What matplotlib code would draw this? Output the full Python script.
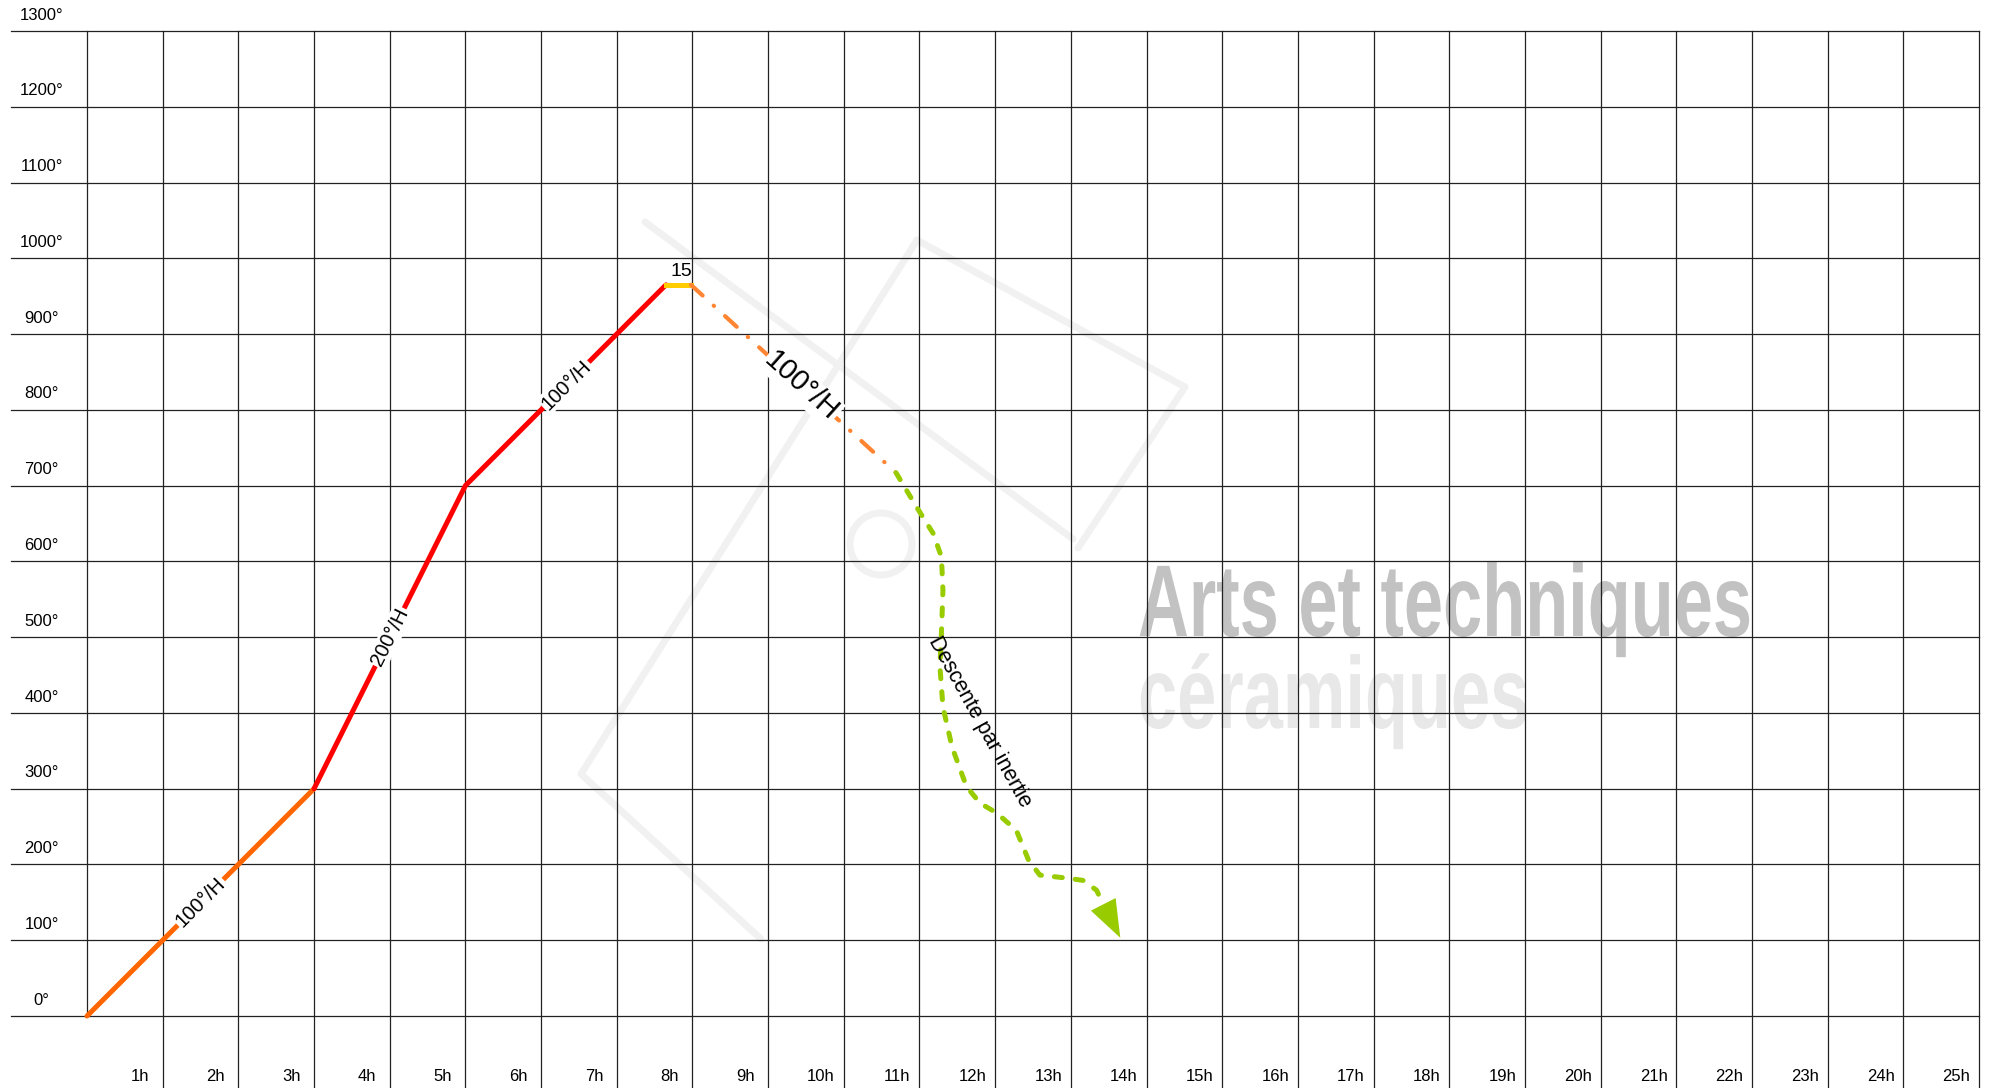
import matplotlib.pyplot as plt
from matplotlib.textpath import TextPath
from matplotlib.patches import PathPatch, Circle
from matplotlib.font_manager import FontProperties
from matplotlib.transforms import Affine2D

plt.rcParams['font.family'] = ['Liberation Sans', 'DejaVu Sans']

# grid / labels
hours = list(range(0, 26))
temps = list(range(0, 1301, 100))
x_labels = [f'{h}h' for h in range(1, 26)]
y_labels = [f'{t}°' for t in temps]

# firing curve (hours, degrees)
ramp1_h = [0, 3]
ramp1_t = [0, 300]
ramp2_h = [3, 5, 7.65]
ramp2_t = [300, 700, 965]
hold_h = [7.65, 7.98]
hold_t = [965, 965]
cool_h = [7.98, 10.69]
cool_t = [965, 717]
inertia_h = [10.69, 10.96, 11.18, 11.29, 11.31, 11.29, 11.27, 11.31, 11.43,
             11.62, 11.80, 12.02, 12.28, 12.44, 12.59, 12.95, 13.16, 13.34, 13.42]
inertia_t = [717, 672, 637, 606, 562, 505, 461, 408, 355,
             303, 281, 268, 245, 206, 186, 182, 179, 166, 149]
arrow_tip = (13.67, 100)

W, H = 1989, 1088
fig = plt.figure(figsize=(W / 100, H / 100), dpi=100)
ax = fig.add_axes([0, 0, 1, 1])
ax.set_xlim(-1.1496, 25.132)
ax.set_ylim(-95.0, 1340.9)
ax.axis('off')


def px(x, y):
    # image pixel (from top-left) -> data coords, for the watermark only
    return (x - 87) / 75.68, (1016 - y) / 0.7577


# faint watermark logo
wm_col = '#f1f1f1'
for seg in [[(645, 222), (1073, 539)],
            [(917, 240), (1185, 387), (1078, 548)],
            [(917, 240), (581, 774), (761, 939)]]:
    xs, ys = zip(*[px(*p) for p in seg])
    ax.plot(xs, ys, color=wm_col, lw=5, zorder=0, solid_capstyle='round')
ax.add_artist(Circle((0, 0), 1, transform=Affine2D().scale(31).translate(881, H - 544),
                     fill=False, edgecolor=wm_col, lw=5, zorder=0))

# watermark text, squeezed horizontally
fp = FontProperties(family='Liberation Sans', weight='bold')
for txt, base, col in [('Arts et techniques', 636, '#c2c2c2'),
                       ('céramiques', 728, '#e8e8e8')]:
    tp = TextPath((0, 0), txt, size=102, prop=fp)
    tr = Affine2D().scale(0.69, 1).translate(1138, H - base)
    ax.add_artist(PathPatch(tp, transform=tr, facecolor=col, edgecolor='none', zorder=0))

gc = '#222222'
for t in temps:
    ax.plot([-1.0, 25], [t, t], color=gc, lw=0.9, zorder=1)
for h in hours:
    y0 = 0 if h == 0 else -95
    ax.plot([h, h], [y0, 1300], color=gc, lw=0.9, zorder=1)

for t, lab in zip(temps, y_labels):
    ax.text(-0.6, t + 21, lab, ha='center', va='center', fontsize=12)
for h, lab in zip(range(1, 26), x_labels):
    ax.text(h - 0.3, -80, lab, ha='center', va='center', fontsize=12)

lw = 3.6
ax.plot(ramp1_h, ramp1_t, color='#ff6600', lw=lw, solid_capstyle='round', zorder=3)
ax.plot(ramp2_h, ramp2_t, color='#ff0000', lw=lw, solid_capstyle='round',
        solid_joinstyle='round', zorder=3)
ax.plot(hold_h, hold_t, color='#ffcc00', lw=lw, zorder=3)
ax.plot(cool_h, cool_t, color='#ff8533', lw=3.0, linestyle=(0, (3.8, 3.6, 0.1, 3.6)),
        dash_capstyle='round', zorder=3)
ax.plot(inertia_h, inertia_t, color='#99cc00', lw=3.6, linestyle=(0, (1.6, 2.6)),
        dash_capstyle='round', zorder=3)
ax.annotate('', xy=arrow_tip, xytext=(inertia_h[-1], inertia_t[-1]),
            arrowprops=dict(arrowstyle='-|>,head_length=1.35,head_width=0.5',
                            color='#99cc00', lw=0, mutation_scale=20), zorder=3)

box = dict(facecolor='white', edgecolor='none', pad=1)
ax.text(1.5, 150, '100°/H', rotation=45, ha='center', va='center', fontsize=14.5,
        bbox=box, zorder=4, rotation_mode='anchor')
ax.text(4.0, 500, '200°/H', rotation=63.5, ha='center', va='center', fontsize=14.5,
        bbox=box, zorder=4, rotation_mode='anchor')
ax.text(6.33, 833, '100°/H', rotation=45, ha='center', va='center', fontsize=14.5,
        bbox=box, zorder=4, rotation_mode='anchor')
ax.text(9.44, 831, '100°/H', rotation=-42, ha='center', va='center', fontsize=21,
        bbox=box, zorder=4, rotation_mode='anchor')
ax.text(7.85, 982, '15', ha='center', va='center', fontsize=14, zorder=4)
ax.text(11.8, 388, 'Descente par inertie', rotation=-61, ha='center', va='center',
        fontsize=15.5, zorder=4, rotation_mode='anchor')

fig.savefig('out.png', dpi=100)
